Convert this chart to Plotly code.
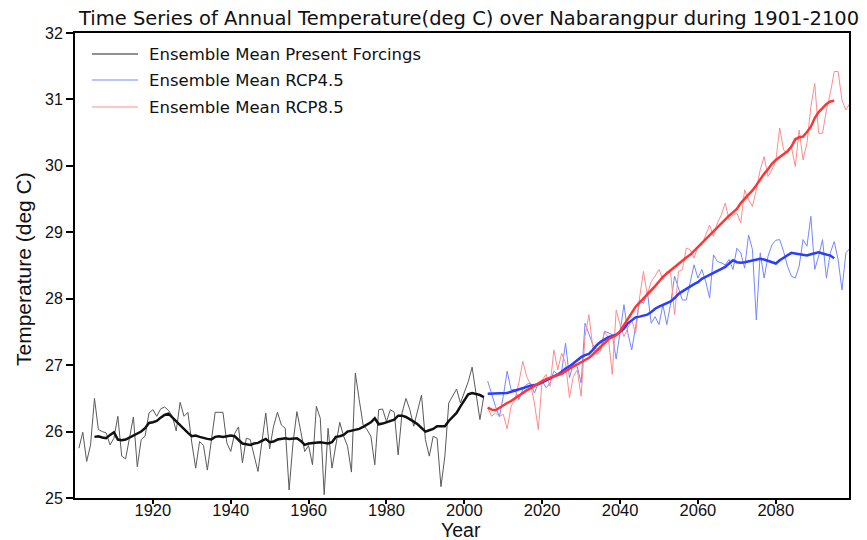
import plotly.graph_objects as go

# ---------------- data ----------------
years_hist = list(range(1901, 2006))
temp_hist = [
    25.75, 25.99, 25.55, 25.80, 26.50, 26.03, 26.00, 25.98, 25.80, 25.90,  # 1901-1910
    26.23, 25.63, 25.59, 25.93, 26.22, 25.47, 25.88, 25.93, 26.28, 26.33,  # 1911-1920
    26.23, 26.34, 26.37, 26.32, 26.23, 26.01, 26.44, 26.23, 26.29, 25.83,  # 1921-1930
    25.45, 25.85, 25.79, 25.42, 25.85, 26.29, 26.29, 26.29, 25.83, 25.70,  # 1931-1940
    25.97, 26.07, 25.53, 25.90, 25.88, 25.63, 25.40, 25.84, 26.28, 25.74,  # 1941-1950
    26.08, 26.29, 26.10, 26.05, 25.12, 25.83, 26.30, 26.00, 25.70, 25.79,  # 1951-1960
    25.50, 26.38, 26.20, 25.05, 26.05, 25.45, 25.83, 26.14, 25.93, 25.78,  # 1961-1970
    25.39, 26.88, 26.48, 26.10, 26.03, 25.93, 25.50, 26.33, 26.34, 26.15,  # 1971-1980
    26.33, 26.29, 25.65, 26.28, 26.50, 26.33, 26.08, 26.33, 26.55, 25.88,  # 1981-1990
    25.63, 25.93, 25.90, 25.17, 25.63, 26.43, 26.53, 26.64, 26.43, 26.60,  # 1991-2000
    26.75, 26.97, 26.60, 26.18, 26.53,                                      # 2001-2005
]

years_hist_smooth = list(range(1905, 2006))
temp_hist_smooth = [
    25.92, 25.93, 25.91, 25.90, 25.95, 25.99,                              # 1905-1910
    25.88, 25.87, 25.88, 25.91, 25.95, 25.97, 26.00, 26.05, 26.13, 26.14,  # 1911-1920
    26.16, 26.21, 26.25, 26.27, 26.21, 26.15, 26.10, 26.04, 25.98, 25.93,  # 1921-1930
    25.94, 25.92, 25.90, 25.89, 25.88, 25.92, 25.93, 25.92, 25.93, 25.94,  # 1931-1940
    25.93, 25.88, 25.82, 25.81, 25.80, 25.82, 25.83, 25.86, 25.89, 25.84,  # 1941-1950
    25.85, 25.88, 25.89, 25.90, 25.89, 25.89, 25.90, 25.86, 25.80, 25.82,  # 1951-1960
    25.83, 25.84, 25.84, 25.83, 25.82, 25.84, 25.92, 25.93, 25.95, 26.00,  # 1961-1970
    26.01, 26.02, 26.04, 26.07, 26.10, 26.14, 26.20, 26.11, 26.12, 26.14,  # 1971-1980
    26.15, 26.18, 26.24, 26.24, 26.22, 26.19, 26.15, 26.11, 26.06, 26.00,  # 1981-1990
    26.02, 26.04, 26.08, 26.08, 26.08, 26.16, 26.22, 26.28, 26.38, 26.48,  # 1991-2000
    26.56, 26.58, 26.57, 26.55, 26.52,                                      # 2001-2005
]

years_rcp = list(range(2006, 2100))
temp_rcp45 = [
    26.76, 26.56, 26.38, 26.22, 26.53,                                      # 2006-2010
    26.91, 26.63, 26.63, 26.48, 26.63, 26.71, 26.73, 26.58, 26.73, 26.76,  # 2011-2020
    26.66, 26.73, 26.91, 26.86, 26.91, 27.33, 26.81, 27.03, 26.98, 26.73,  # 2021-2030
    27.63, 27.48, 27.31, 27.23, 27.21, 27.51, 27.48, 27.46, 27.09, 27.53,  # 2031-2040
    27.91, 27.48, 27.23, 27.58, 27.98, 27.93, 28.11, 27.63, 27.73, 27.61,  # 2041-2050
    27.91, 27.61, 27.93, 28.34, 28.14, 27.98, 27.98, 28.24, 28.51, 28.31,  # 2051-2060
    28.44, 28.26, 28.01, 28.66, 28.56, 28.54, 28.51, 28.59, 28.44, 28.76,  # 2061-2070
    28.69, 28.46, 28.96, 28.74, 27.68, 28.69, 28.31, 28.64, 28.81, 28.88,  # 2071-2080
    28.89, 28.71, 28.49, 28.34, 28.31, 28.49, 28.89, 28.79, 29.24, 28.44,  # 2081-2090
    28.64, 28.89, 28.31, 28.69, 28.86, 28.59, 28.13, 28.69, 28.76,         # 2091-2099
]
temp_rcp85 = [
    26.36, 26.23, 26.28, 26.23, 26.26,                                      # 2006-2010
    26.04, 26.38, 26.48, 26.73, 27.06, 26.83, 26.71, 26.43, 26.03, 26.78,  # 2011-2020
    26.86, 26.68, 27.23, 26.93, 27.18, 27.03, 26.51, 26.83, 26.93, 26.53,  # 2021-2030
    27.43, 27.76, 27.26, 27.16, 27.23, 27.51, 27.41, 26.86, 27.83, 27.61,  # 2031-2040
    27.43, 27.56, 27.68, 27.48, 28.01, 28.41, 28.06, 28.26, 28.34, 28.44,  # 2041-2050
    28.29, 28.41, 28.39, 27.76, 28.41, 28.44, 28.76, 28.74, 28.61, 28.79,  # 2051-2060
    28.81, 28.96, 29.11, 28.94, 29.14, 29.26, 29.44, 29.19, 29.26, 29.29,  # 2061-2070
    29.14, 29.64, 29.49, 29.39, 29.64, 29.94, 30.14, 29.84, 29.94, 30.07,  # 2071-2080
    30.57, 30.24, 30.19, 30.29, 29.99, 30.54, 30.09, 30.34, 30.89, 31.24,  # 2081-2090
    30.49, 30.49, 30.84, 31.09, 31.42, 31.42, 30.99, 30.84, 30.94,         # 2091-2099
]

years_rcp_smooth = list(range(2006, 2096))
temp_rcp45_smooth = [
    26.57, 26.57, 26.58, 26.58, 26.58,                                      # 2006-2010
    26.58, 26.60, 26.62, 26.64, 26.66, 26.67, 26.69, 26.70, 26.71, 26.74,  # 2011-2020
    26.77, 26.79, 26.83, 26.86, 26.90, 26.95, 26.98, 27.03, 27.08, 27.12,  # 2021-2030
    27.15, 27.17, 27.23, 27.30, 27.35, 27.39, 27.42, 27.44, 27.46, 27.50,  # 2031-2040
    27.55, 27.63, 27.68, 27.72, 27.73, 27.74, 27.76, 27.80, 27.85, 27.88,  # 2041-2050
    27.91, 27.93, 27.96, 28.01, 28.07, 28.11, 28.15, 28.19, 28.22, 28.25,  # 2051-2060
    28.30, 28.33, 28.36, 28.39, 28.42, 28.45, 28.48, 28.53, 28.58, 28.55,  # 2061-2070
    28.54, 28.55, 28.56, 28.58, 28.59, 28.60, 28.59, 28.57, 28.54, 28.53,  # 2071-2080
    28.58, 28.62, 28.66, 28.69, 28.68, 28.67, 28.66, 28.65, 28.67, 28.69,  # 2081-2090
    28.70, 28.68, 28.67, 28.65, 28.61,                                      # 2091-2095
]
temp_rcp85_smooth = [
    26.36, 26.33, 26.32, 26.36, 26.40,                                      # 2006-2010
    26.43, 26.46, 26.50, 26.54, 26.59, 26.62, 26.65, 26.69, 26.73, 26.76,  # 2011-2020
    26.79, 26.81, 26.83, 26.85, 26.87, 26.91, 26.95, 26.98, 27.01, 27.04,  # 2021-2030
    27.08, 27.11, 27.16, 27.22, 27.28, 27.33, 27.39, 27.42, 27.45, 27.51,  # 2031-2040
    27.60, 27.68, 27.78, 27.88, 27.94, 28.00, 28.06, 28.12, 28.19, 28.26,  # 2041-2050
    28.33, 28.38, 28.43, 28.48, 28.52, 28.57, 28.62, 28.66, 28.72, 28.77,  # 2051-2060
    28.83, 28.89, 28.95, 29.01, 29.07, 29.13, 29.19, 29.25, 29.30, 29.35,  # 2061-2070
    29.44, 29.50, 29.56, 29.63, 29.71, 29.80, 29.88, 29.95, 30.03, 30.09,  # 2071-2080
    30.13, 30.17, 30.22, 30.29, 30.40, 30.43, 30.44, 30.51, 30.59, 30.72,  # 2081-2090
    30.81, 30.87, 30.93, 30.97, 30.98,                                      # 2091-2095
]

x_ticks = [1920, 1940, 1960, 1980, 2000, 2020, 2040, 2060, 2080]
y_ticks = [25, 26, 27, 28, 29, 30, 31, 32]
legend_labels = ["Ensemble Mean Present Forcings", "Ensemble Mean RCP4.5", "Ensemble Mean RCP8.5"]
title_text = "Time Series of Annual Temperature(deg C) over Nabarangpur during 1901-2100"

# ---------------- styles ----------------
C_BLACK_THIN = "#5a5a5a"
C_BLACK_THICK = "#111111"
C_BLUE_THIN = "#7487ff"
C_BLUE_THICK = "#2b3dff"
C_RED_THIN = "#ff8c8c"
C_RED_THICK = "#ff3535"

fig = go.Figure()
fig.add_trace(go.Scatter(x=years_hist, y=temp_hist, mode="lines",
                         line=dict(color=C_BLACK_THIN, width=1), showlegend=False))
fig.add_trace(go.Scatter(x=years_rcp, y=temp_rcp45, mode="lines",
                         line=dict(color=C_BLUE_THIN, width=1), showlegend=False))
fig.add_trace(go.Scatter(x=years_rcp, y=temp_rcp85, mode="lines",
                         line=dict(color=C_RED_THIN, width=1), showlegend=False))
fig.add_trace(go.Scatter(x=years_hist_smooth, y=temp_hist_smooth, mode="lines",
                         line=dict(color=C_BLACK_THICK, width=2.5), showlegend=False))
fig.add_trace(go.Scatter(x=years_rcp_smooth, y=temp_rcp45_smooth, mode="lines",
                         line=dict(color=C_BLUE_THICK, width=2.5), showlegend=False))
fig.add_trace(go.Scatter(x=years_rcp_smooth, y=temp_rcp85_smooth, mode="lines",
                         line=dict(color=C_RED_THICK, width=2.5), showlegend=False))

# ---------------- manual legend (paper coords) ----------------
W, H = 867, 540
ML, MR, MT, MB = 75, 18, 33, 42
PW, PH = W - ML - MR, H - MT - MB

def px(xp):
    return (xp - ML) / PW

def py(yp):
    return (H - MB - yp) / PH

legend_rows_y = [54, 80, 107]
legend_line_cols = ["#222222", C_BLUE_THIN, C_RED_THIN]
shapes = []
annotations = []
for lab, col, yy in zip(legend_labels, legend_line_cols, legend_rows_y):
    shapes.append(dict(type="line", xref="paper", yref="paper",
                       x0=px(92), x1=px(138), y0=py(yy), y1=py(yy),
                       line=dict(color=col, width=1)))
    annotations.append(dict(text=lab, xref="paper", yref="paper", x=px(147), y=py(yy),
                            xanchor="left", yanchor="middle", showarrow=False,
                            font=dict(family="DejaVu Sans", size=16.5, color="#111")))

annotations.append(dict(text=title_text, xref="paper", yref="paper",
                        x=px(468), y=py(18), xanchor="center", yanchor="middle",
                        showarrow=False,
                        font=dict(family="DejaVu Sans", size=19.5, color="#111")))
annotations.append(dict(text="Temperature (deg C)", xref="paper", yref="paper",
                        x=px(23), y=py(269), xanchor="center", yanchor="middle",
                        textangle=-90, showarrow=False,
                        font=dict(family="Liberation Sans", size=21, color="#111")))
annotations.append(dict(text="Year", xref="paper", yref="paper",
                        x=px(461), y=py(530), xanchor="center", yanchor="middle",
                        showarrow=False,
                        font=dict(family="Liberation Sans", size=19.5, color="#111")))

fig.update_layout(
    width=W, height=H,
    margin=dict(l=ML, r=MR, t=MT, b=MB, autoexpand=False),
    paper_bgcolor="white", plot_bgcolor="white",
    showlegend=False,
    shapes=shapes, annotations=annotations,
    font=dict(family="Liberation Sans", color="#111"),
)
fig.update_xaxes(range=[1900, 2098.8], tickvals=x_ticks, ticktext=[str(v) for v in x_ticks],
                 showgrid=False, zeroline=False, showline=True, linecolor="black",
                 linewidth=2, mirror=True, ticks="outside", ticklen=4, tickwidth=1.5,
                 tickcolor="black", ticklabelstandoff=-8,
                 tickfont=dict(family="Liberation Sans", size=16.5, color="#111"),
                 automargin=False)
fig.update_yaxes(range=[25, 32], tickvals=y_ticks, ticktext=[str(v) for v in y_ticks],
                 showgrid=False, zeroline=False, showline=True, linecolor="black",
                 linewidth=2, mirror=True, ticks="outside", ticklen=7, tickwidth=1.5,
                 tickcolor="black", tickfont=dict(family="Liberation Sans", size=16, color="#111"),
                 automargin=False)

fig.write_html("out.html", config={"displayModeBar": False})
